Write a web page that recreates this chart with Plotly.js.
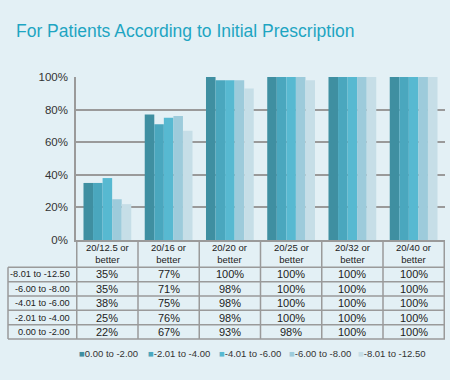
<!DOCTYPE html>
<html>
<head>
<meta charset="utf-8">
<script src="https://cdn.plot.ly/plotly-3.0.1.min.js"></script>
<style>html,body{margin:0;padding:0;background:#e3f0f5;}#chart{width:450px;height:380px;}</style>
</head>
<body>
<div id="chart"></div>
<script>
// ---- data ----
var categories = ["20/12.5 or<br>better", "20/16 or<br>better", "20/20 or<br>better", "20/25 or<br>better", "20/32 or<br>better", "20/40 or<br>better"];
var rowLabels = ["-8.01 to -12.50", "-6.00 to -8.00", "-4.01 to -6.00", "-2.01 to -4.00", "0.00 to -2.00"];
var legendLabels = ["0.00 to -2.00", "-2.01 to -4.00", "-4.01 to -6.00", "-6.00 to -8.00", "-8.01 to -12.50"];
var row1 = [35, 77, 100, 100, 100, 100];
var row2 = [35, 71, 98, 100, 100, 100];
var row3 = [38, 75, 98, 100, 100, 100];
var row4 = [25, 76, 98, 100, 100, 100];
var row5 = [22, 67, 93, 98, 100, 100];
var yTicks = [0, 20, 40, 60, 80, 100];

var rows = [row1, row2, row3, row4, row5];
var colors = ["#3f8fa1", "#4aa7be", "#57b9d1", "#9dcbdb", "#c6dee7"];
var FONT = "Liberation Sans, Arial, sans-serif";
var lineCol = "#9a9a9a";

// plot area geometry (px)
var W = 450, H = 380, L = 76, R = 5, T = 77, B = 140;
var pw = W - L - R, ph = H - T - B;
function px2x(p) { return (p - L) / pw; }
function py2y(p) { return (H - B - p) / ph; }

var traces = rows.map(function (r, i) {
  return {
    type: "bar", x: categories, y: r, name: legendLabels[i],
    marker: { color: colors[i], line: { width: 0 } },
    hoverinfo: "y+name", showlegend: false
  };
});

var annotations = [];
var shapes = [];

// header labels
categories.forEach(function (c) {
  annotations.push({ x: c, xref: "x", y: py2y(253.5), yref: "paper", text: c, showarrow: false,
    font: { family: FONT, size: 9.5, color: "#222" }, xanchor: "center", yanchor: "middle" });
});
// rows
var headerBottom = 267.3, rowH = 14.35;
rows.forEach(function (r, i) {
  var yc = py2y(headerBottom + rowH * (i + 0.5));
  annotations.push({ x: px2x(72), xref: "paper", y: yc, yref: "paper", text: rowLabels[i], showarrow: false,
    font: { family: FONT, size: 9.2, color: "#222" }, xanchor: "right", yanchor: "middle" });
  r.forEach(function (v, j) {
    annotations.push({ x: categories[j], xref: "x", y: yc, yref: "paper", text: v + "%", showarrow: false,
      font: { family: FONT, size: 11, color: "#222" }, xanchor: "center", yanchor: "middle" });
  });
});
// table grid lines
var bottom = headerBottom + rowH * rows.length;
for (var k = 0; k <= categories.length; k++) {
  shapes.push({ type: "line", xref: "x", yref: "paper", x0: k - 0.5, x1: k - 0.5, y0: 0, y1: py2y(bottom),
    line: { color: lineCol, width: 1.5 } });
}
shapes.push({ type: "line", xref: "paper", yref: "paper", x0: px2x(8), x1: px2x(8), y0: py2y(headerBottom), y1: py2y(bottom),
  line: { color: lineCol, width: 1.5 } });
for (var m = 0; m <= rows.length; m++) {
  var yy = py2y(headerBottom + rowH * m);
  shapes.push({ type: "line", xref: "paper", yref: "paper", x0: px2x(8), x1: 1, y0: yy, y1: yy,
    line: { color: lineCol, width: 1.5 } });
}

// legend (manual)
var legX = [78, 147, 218, 288, 357];
legendLabels.forEach(function (lab, i) {
  annotations.push({ x: px2x(legX[i] - 1), xref: "paper", y: py2y(353.5), yref: "paper", showarrow: false,
    xanchor: "left", yanchor: "middle",
    text: "<span style='color:" + colors[i] + "'>■</span>" + lab,
    font: { family: FONT, size: 9.5, color: "#333" } });
});

var layout = {
  width: W, height: H,
  paper_bgcolor: "#e3f0f5", plot_bgcolor: "#e3f0f5",
  margin: { l: L, r: R, t: T, b: B, pad: 0 },
  title: { text: "For Patients According to Initial Prescription", x: 16 / W, xref: "container", xanchor: "left",
    y: 1 - 31 / H, yref: "container", yanchor: "middle",
    font: { family: FONT, size: 17.5, color: "#1ea5c2" } },
  barmode: "group", bargap: 0.22, bargroupgap: 0,
  showlegend: false,
  xaxis: { type: "category", showticklabels: false, ticks: "", showgrid: false, zeroline: false,
    showline: true, linecolor: lineCol, linewidth: 1.5, fixedrange: true },
  yaxis: { range: [0, 100], tickvals: yTicks, ticktext: yTicks.map(function (v) { return v + "%"; }),
    showgrid: true, gridcolor: lineCol, gridwidth: 1.5, zeroline: false,
    showline: true, linecolor: lineCol, linewidth: 1.5, ticks: "", ticklabelstandoff: 4,
    tickfont: { family: FONT, size: 11.5, color: "#333" }, fixedrange: true },
  annotations: annotations, shapes: shapes
};

Plotly.newPlot("chart", traces, layout, { displayModeBar: false, staticPlot: false });
</script>
</body>
</html>
